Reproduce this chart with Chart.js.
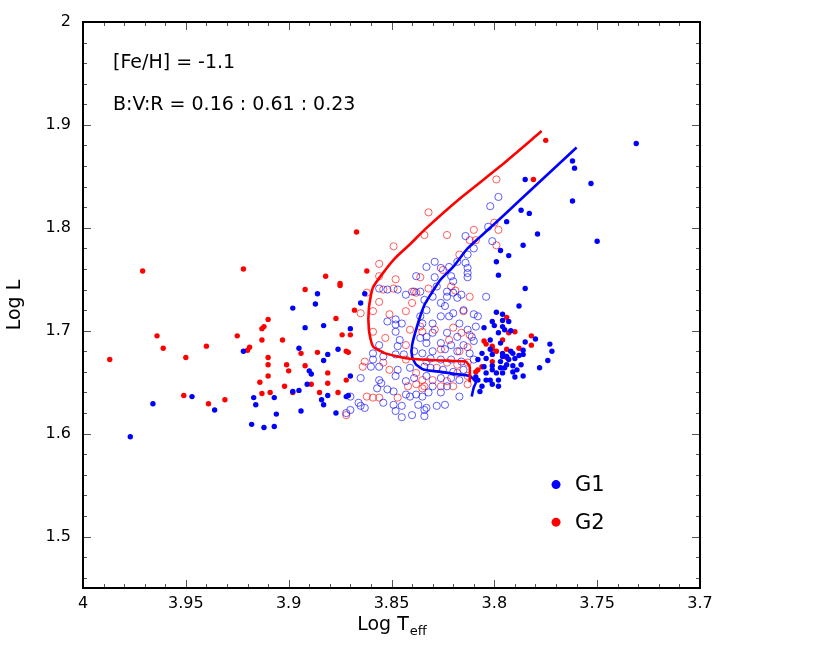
<!DOCTYPE html>
<html><head><meta charset="utf-8">
<script src="https://cdn.jsdelivr.net/npm/chart.js@4.4.1/dist/chart.umd.min.js"></script>
<style>html,body{margin:0;padding:0;background:#fff;}#wrap{width:830px;height:654px;}</style>
</head><body><div id="wrap"><canvas id="c" width="830" height="654"></canvas></div>
<script>
const xTicks=[4,3.95,3.9,3.85,3.8,3.75,3.7];
const xTickLabels=['4','3.95','3.9','3.85','3.8','3.75','3.7'];
const yTicks=[1.5,1.6,1.7,1.8,1.9,2];
const yTickLabels=['1.5','1.6','1.7','1.8','1.9','2'];
const seriesNames=['G1','G2'];
const annotations=['[Fe/H] = -1.1','B:V:R = 0.16 : 0.61 : 0.23'];
const xTitleMain='Log T', xTitleSub='eff', yTitle='Log L';

// G1 observed stars (filled) : [log Teff, log L]
const g1Filled=[[3.886,1.736],[3.887,1.726],[3.898,1.722],[3.892,1.703],[3.883,1.705],[3.870,1.702],[3.895,1.683],[3.876,1.682],[3.922,1.680],[3.881,1.677],[3.883,1.671],[3.890,1.661],[3.889,1.658],[3.870,1.656],[3.891,1.648],[3.898,1.641],[3.895,1.642],[3.881,1.637],[3.872,1.636],[3.871,1.637],[3.947,1.636],[3.917,1.635],[3.907,1.635],[3.884,1.633],[3.883,1.628],[3.966,1.629],[3.916,1.628],[3.936,1.623],[3.894,1.622],[3.877,1.620],[3.906,1.619],[3.918,1.609],[3.912,1.606],[3.907,1.607],[3.977,1.597],[3.865,1.727],[3.863,1.736],
[3.785,1.847],[3.762,1.865],[3.761,1.858],[3.753,1.843],[3.762,1.826],[3.731,1.882],[3.750,1.787],[3.787,1.817],[3.783,1.814],[3.794,1.806],[3.779,1.794],[3.786,1.783],[3.797,1.778],[3.793,1.773],[3.799,1.767],[3.798,1.754],[3.785,1.741],
[3.788,1.724],[3.799,1.718],[3.796,1.716],[3.801,1.709],[3.796,1.710],[3.793,1.709],[3.805,1.703],[3.800,1.705],[3.796,1.704],[3.798,1.698],[3.795,1.701],[3.792,1.700],[3.802,1.691],[3.797,1.688],[3.802,1.682],[3.806,1.678],[3.808,1.672],[3.804,1.673],[3.796,1.675],[3.794,1.675],[3.805,1.665],[3.801,1.666],[3.797,1.664],[3.794,1.667],[3.804,1.659],[3.799,1.659],[3.796,1.659],[3.808,1.652],[3.804,1.652],[3.801,1.648],[3.798,1.646],[3.806,1.646],[3.809,1.655],[3.785,1.689],[3.780,1.692],[3.773,1.687],[3.772,1.680],[3.774,1.671],[3.778,1.664],[3.786,1.681],[3.786,1.677],[3.788,1.676],[3.792,1.680],[3.791,1.678],[3.790,1.673],[3.787,1.667],[3.789,1.662],[3.791,1.666],[3.791,1.660],[3.790,1.655],[3.786,1.656],[3.793,1.672],[3.795,1.664],[3.797,1.670],[3.801,1.662],[3.798,1.652],[3.802,1.652],[3.796,1.678],[3.801,1.677],[3.807,1.641]];

// G2 observed stars (filled)
const g2Filled=[[3.971,1.758],[3.922,1.760],[3.882,1.753],[3.875,1.746],[3.875,1.744],[3.892,1.740],[3.868,1.720],[3.910,1.711],[3.912,1.704],[3.913,1.702],[3.877,1.712],[3.964,1.695],[3.925,1.695],[3.913,1.691],[3.903,1.691],[3.874,1.696],[3.870,1.696],[3.961,1.683],[3.940,1.685],[3.919,1.684],[3.920,1.681],[3.886,1.679],[3.894,1.678],[3.872,1.680],[3.871,1.679],[3.987,1.672],[3.950,1.674],[3.910,1.674],[3.910,1.667],[3.901,1.667],[3.892,1.666],[3.900,1.661],[3.881,1.659],[3.910,1.656],[3.872,1.652],[3.914,1.650],[3.881,1.649],[3.889,1.648],[3.902,1.646],[3.898,1.640],[3.909,1.640],[3.913,1.639],[3.885,1.640],[3.876,1.640],[3.951,1.637],[3.939,1.629],[3.931,1.633],[3.867,1.796],[3.862,1.758],
[3.775,1.885],[3.781,1.847],[3.805,1.690],[3.804,1.687],[3.801,1.685],[3.799,1.680],[3.794,1.682],[3.801,1.670],[3.806,1.665],[3.809,1.660],[3.808,1.662],[3.794,1.713],[3.793,1.698],[3.790,1.699],[3.796,1.691],[3.782,1.695],[3.782,1.686],[3.788,1.683],[3.801,1.682],[3.794,1.674]];

// G1 synthetic stars (open)
const g1Model=[[3.814,1.792],[3.829,1.767],[3.833,1.762],[3.838,1.753],[3.829,1.752],[3.826,1.761],[3.822,1.762],[3.818,1.767],[3.813,1.774],[3.814,1.766],[3.813,1.761],[3.813,1.756],[3.813,1.752],[3.821,1.753],[3.820,1.748],[3.823,1.738],[3.828,1.743],[3.830,1.733],[3.836,1.738],[3.843,1.735],[3.852,1.740],[3.856,1.741],[3.847,1.740],[3.818,1.732],[3.798,1.830],[3.802,1.821],[3.803,1.801],[3.801,1.787],[3.810,1.780],
[3.852,1.709],[3.848,1.711],[3.848,1.706],[3.845,1.707],[3.848,1.699],[3.839,1.738],[3.834,1.730],[3.833,1.720],[3.836,1.714],[3.835,1.707],[3.833,1.694],[3.836,1.693],[3.846,1.691],[3.847,1.685],[3.856,1.686],[3.859,1.678],[3.854,1.675],[3.848,1.677],[3.844,1.677],[3.839,1.680],[3.859,1.672],[3.856,1.665],[3.860,1.665],[3.847,1.662],[3.841,1.664],[3.834,1.665],[3.865,1.654],[3.856,1.652],[3.855,1.649],[3.848,1.656],[3.843,1.651],[3.839,1.654],[3.833,1.656],[3.857,1.644],[3.852,1.643],[3.849,1.641],[3.843,1.638],[3.838,1.638],[3.835,1.636],[3.866,1.630],[3.870,1.623],[3.865,1.627],[3.854,1.630],[3.849,1.628],[3.845,1.627],[3.841,1.636],[3.837,1.628],[3.848,1.622],[3.834,1.623],[3.834,1.617],[3.840,1.618],[3.870,1.636],[3.863,1.625],[3.845,1.616],[3.872,1.620],
[3.804,1.733],[3.816,1.735],[3.820,1.737],[3.823,1.733],[3.826,1.727],[3.824,1.724],[3.820,1.717],[3.815,1.720],[3.810,1.716],[3.808,1.714],[3.822,1.714],[3.826,1.714],[3.830,1.707],[3.817,1.707],[3.813,1.701],[3.809,1.704],[3.811,1.694],[3.818,1.694],[3.823,1.698],[3.830,1.698],[3.833,1.688],[3.826,1.688],[3.821,1.686],[3.815,1.686],[3.810,1.690],[3.812,1.678],[3.818,1.680],[3.824,1.682],[3.830,1.680],[3.835,1.678],[3.831,1.673],[3.826,1.672],[3.821,1.672],[3.816,1.670],[3.810,1.672],[3.831,1.664],[3.825,1.662],[3.820,1.660],[3.815,1.662],[3.826,1.654],[3.821,1.654],[3.817,1.652],[3.830,1.646],[3.823,1.646],[3.832,1.640],[3.826,1.640],[3.817,1.636],[3.824,1.628],[3.833,1.625],[3.828,1.627]];

// G2 synthetic stars (open)
const g2Model=[[3.832,1.815],[3.834,1.793],[3.823,1.793],[3.849,1.782],[3.856,1.765],[3.856,1.753],[3.848,1.750],[3.836,1.752],[3.840,1.738],[3.838,1.737],[3.849,1.741],[3.854,1.740],[3.825,1.759],[3.817,1.774],[3.812,1.788],[3.821,1.743],[3.819,1.739],[3.832,1.741],[3.862,1.737],[3.799,1.847],[3.800,1.805],[3.798,1.798],[3.810,1.798],[3.809,1.788],[3.799,1.783],
[3.865,1.717],[3.859,1.719],[3.856,1.728],[3.851,1.716],[3.843,1.719],[3.840,1.727],[3.859,1.699],[3.853,1.693],[3.841,1.701],[3.836,1.704],[3.843,1.686],[3.863,1.670],[3.864,1.665],[3.854,1.669],[3.851,1.662],[3.843,1.672],[3.838,1.659],[3.835,1.652],[3.838,1.648],[3.842,1.646],[3.835,1.644],[3.862,1.636],[3.859,1.635],[3.856,1.635],[3.847,1.635],[3.872,1.618],
[3.812,1.733],[3.815,1.719],[3.835,1.699],[3.829,1.701],[3.820,1.703],[3.816,1.698],[3.822,1.691],[3.812,1.696],[3.817,1.680],[3.826,1.682],[3.813,1.684],[3.833,1.670],[3.823,1.669],[3.818,1.667],[3.813,1.669],[3.828,1.664],[3.818,1.659],[3.830,1.652],[3.823,1.651],[3.813,1.656],[3.834,1.646],[3.826,1.646],[3.820,1.646],[3.813,1.648]];

// evolutionary tracks
const g1Track=[[3.811,1.636],[3.810,1.645],[3.809,1.650],[3.812,1.656],[3.819,1.658],[3.826,1.660],[3.834,1.662],[3.838,1.667],[3.840,1.675],[3.840,1.686],[3.837,1.708],[3.834,1.725],[3.831,1.735],[3.826,1.750],[3.820,1.762],[3.813,1.780],[3.802,1.800],[3.788,1.826],[3.760,1.878]];
const g2Track=[[3.812,1.650],[3.812,1.665],[3.814,1.670],[3.825,1.671],[3.842,1.673],[3.853,1.678],[3.859,1.685],[3.861,1.701],[3.861,1.722],[3.859,1.742],[3.853,1.759],[3.848,1.771],[3.841,1.784],[3.834,1.798],[3.817,1.828],[3.797,1.860],[3.777,1.894]];

const FONT='"DejaVu Sans", "Liberation Sans", Arial, sans-serif';
const BLUE='#0000ff', RED='#ff0000';
const toXY=a=>a.map(p=>({x:p[0],y:p[1]}));

const decor={
  id:'decor',
  afterDatasetsDraw(chart){
    const {ctx,chartArea:a,scales:{x,y}}=chart;
    ctx.save();
    ctx.strokeStyle='#555';ctx.lineWidth=1;
    ctx.beginPath();
    for(let i=0;i<=30;i++){
      const v=3.7+i*0.01, px=Math.round(x.getPixelForValue(v))+0.5, L=(i%5===0)?8:4;
      ctx.moveTo(px,a.bottom);ctx.lineTo(px,a.bottom-L);
      ctx.moveTo(px,a.top);ctx.lineTo(px,a.top+L);
    }
    for(let i=0;i<=27;i++){
      const k=146+2*i, v=k/100, py=Math.round(y.getPixelForValue(v))+0.5, L=(k%10===0)?8:4;
      ctx.moveTo(a.left,py);ctx.lineTo(a.left+L,py);
      ctx.moveTo(a.right,py);ctx.lineTo(a.right-L,py);
    }
    ctx.stroke();
    ctx.strokeStyle='#000';ctx.lineWidth=2;
    ctx.strokeRect(a.left,a.top,a.right-a.left,a.bottom-a.top);
    ctx.restore();
  },
  afterDraw(chart){
    const {ctx,chartArea:a,scales:{x,y}}=chart;
    ctx.save();
    ctx.fillStyle='#000';
    // annotations
    ctx.font='19px '+FONT;ctx.textAlign='left';ctx.textBaseline='middle';
    ctx.fillText(annotations[0],x.getPixelForValue(3.9854),y.getPixelForValue(1.960));
    ctx.fillText(annotations[1],x.getPixelForValue(3.9854),y.getPixelForValue(1.919));
    // legend
    const leg=[[seriesNames[0],BLUE,1.5505],[seriesNames[1],RED,1.514]];
    const lx=x.getPixelForValue(3.770);
    leg.forEach(([t,c,v])=>{
      const ly=y.getPixelForValue(v);
      ctx.fillStyle=c;ctx.beginPath();ctx.arc(lx,ly,4.5,0,Math.PI*2);ctx.fill();
      ctx.fillStyle='#000';ctx.font='21px '+FONT;ctx.textBaseline='middle';
      ctx.fillText(t,lx+19,ly+1);
    });
    // x axis title with subscript
    ctx.font='19px '+FONT;const w1=ctx.measureText(xTitleMain).width;
    ctx.font='13px '+FONT;const w2=ctx.measureText(xTitleSub).width;
    const cx=(a.left+a.right)/2, bx=cx-(w1+w2)/2, by=a.bottom+42;
    ctx.textBaseline='alphabetic';
    ctx.font='19px '+FONT;ctx.fillText(xTitleMain,bx,by);
    ctx.font='13px '+FONT;ctx.fillText(xTitleSub,bx+w1+1,by+5);
    ctx.restore();
  }
};

new Chart(document.getElementById('c'),{
  type:'scatter',
  data:{datasets:[
    {label:'G1 model',data:toXY(g1Model),pointStyle:'circle',pointRadius:3.6,pointBorderWidth:0.9,borderColor:'rgba(0,0,255,0.7)',backgroundColor:'rgba(0,0,0,0)',order:3},
    {label:'G2 model',data:toXY(g2Model),pointStyle:'circle',pointRadius:3.6,pointBorderWidth:0.9,borderColor:'rgba(255,0,0,0.7)',backgroundColor:'rgba(0,0,0,0)',order:3},
    {label:'G1 track',data:toXY(g1Track),showLine:true,pointRadius:0,borderColor:BLUE,borderWidth:2.6,tension:0.2,order:2},
    {label:'G2 track',data:toXY(g2Track),showLine:true,pointRadius:0,borderColor:RED,borderWidth:2.6,tension:0.2,order:1},
    {label:seriesNames[0],data:toXY(g1Filled),pointRadius:2.7,pointBorderWidth:0,backgroundColor:BLUE,borderColor:BLUE,order:0},
    {label:seriesNames[1],data:toXY(g2Filled),pointRadius:2.7,pointBorderWidth:0,backgroundColor:RED,borderColor:RED,order:0}
  ]},
  options:{
    responsive:false,animation:false,devicePixelRatio:1,
    layout:{padding:{top:22,right:130,bottom:0,left:0}},
    plugins:{legend:{display:false},tooltip:{enabled:false}},
    scales:{
      x:{type:'linear',reverse:true,min:3.7,max:4.0,
        afterBuildTicks:s=>{s.ticks=xTicks.map(v=>({value:v}));},
        afterFit:s=>{s.height=66;},
        ticks:{callback:(v,i)=>xTickLabels[i],font:{family:FONT,size:16},color:'#000',padding:6,maxRotation:0,autoSkip:false},
        grid:{display:false,drawTicks:false},border:{display:false}},
      y:{type:'linear',min:1.45,max:2.0,
        afterBuildTicks:s=>{s.ticks=yTicks.map(v=>({value:v}));},
        afterFit:s=>{s.width=83;},
        ticks:{callback:(v,i)=>yTickLabels[i],font:{family:FONT,size:16},color:'#000',padding:12,autoSkip:false},
        title:{display:true,text:yTitle,font:{family:FONT,size:19},color:'#000',padding:{top:4,bottom:0}},
        grid:{display:false,drawTicks:false},border:{display:false}}
    }
  },
  plugins:[decor]
});
</script></body></html>
